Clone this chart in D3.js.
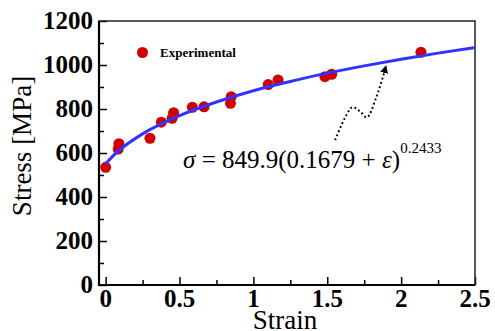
<!DOCTYPE html>
<meta charset="utf-8">
<style>
    body {
        margin: 0;
        background-color: white;
    }

    .tick-label {
        font-family: "Liberation Serif", "Times New Roman", serif;
        font-weight: bold;
        font-size: 25px;
    }

    .axis-title {
        font-family: "Liberation Serif", "Times New Roman", serif;
        font-size: 27px;
    }
</style>

<body>
    <script src="https://d3js.org/d3.v7.min.js"></script>
    <script>
        var width = 495,
            height = 331;

        // experimental points
        const strain = [0, 0.09, 0.085, 0.30, 0.377, 0.45, 0.46, 0.587, 0.666, 0.845, 0.85, 1.10, 1.167, 1.484, 1.53, 2.134];
        const stress = [535, 642, 618, 667, 740, 758, 783, 808, 810, 826, 856, 911, 932, 947, 958, 1058];

        // fitted curve, sampled
        const fitStrain = [0, 0.05, 0.1, 0.25, 0.5, 0.75, 1.0, 1.25, 1.5, 1.75, 2.0, 2.25, 2.5];
        const fitStress = [551, 587, 617, 687, 770, 832, 883, 925, 963, 996, 1026, 1054, 1079];

        const xTicks = [0, 0.5, 1, 1.5, 2, 2.5];
        const xMinor = [0.25, 0.75, 1.25, 1.75, 2.25];
        const yTicks = [0, 200, 400, 600, 800, 1000, 1200];
        const yMinor = [100, 300, 500, 700, 900, 1100];

        // dotted arrow path, in data units
        const arrowStrain = [1.553, 1.62, 1.67, 1.72, 1.768, 1.83, 1.892];
        const arrowStress = [659, 760, 808, 790, 762, 850, 982];

        var x = d3.scaleLinear()
            .domain([-0.045, 2.5])
            .range([99, 475]);

        var y = d3.scaleLinear()
            .domain([0, 1200])
            .range([285, 21]);

        var svg = d3.select("body").append("svg")
            .attr("width", width)
            .attr("height", height);

        // ticks (inward)
        var xAxis = d3.axisBottom(x).tickValues(xTicks).tickSize(-8).tickSizeOuter(0).tickFormat("");
        var xAxisMinor = d3.axisBottom(x).tickValues(xMinor).tickSize(-5).tickSizeOuter(0).tickFormat("");
        var yAxis = d3.axisLeft(y).tickValues(yTicks).tickSize(-8).tickSizeOuter(0).tickFormat("");
        var yAxisMinor = d3.axisLeft(y).tickValues(yMinor).tickSize(-5).tickSizeOuter(0).tickFormat("");

        [[xAxis, "translate(0,285)"], [xAxisMinor, "translate(0,285)"],
        [yAxis, "translate(99,0)"], [yAxisMinor, "translate(99,0)"]].forEach(function (a) {
            var g = svg.append("g").attr("transform", a[1]).call(a[0]);
            g.select(".domain").remove();
            g.selectAll("line").attr("stroke", "black").attr("stroke-width", 1.5);
        });

        // frame
        svg.append("rect")
            .attr("x", 99)
            .attr("y", 21)
            .attr("width", 376)
            .attr("height", 264)
            .attr("fill", "none")
            .attr("stroke", "#222")
            .attr("stroke-width", 1.5);
        svg.append("path")
            .attr("d", "M99,21V285H475")
            .attr("fill", "none")
            .attr("stroke", "black")
            .attr("stroke-width", 2.2);

        // tick labels
        svg.selectAll(".xlab")
            .data(xTicks)
            .enter().append("text")
            .attr("class", "tick-label")
            .attr("x", d => x(d))
            .attr("y", 307)
            .attr("text-anchor", "middle")
            .text(d => d);

        svg.selectAll(".ylab")
            .data(yTicks)
            .enter().append("text")
            .attr("class", "tick-label")
            .attr("x", 93)
            .attr("y", d => y(d) + 8)
            .attr("text-anchor", "end")
            .text(d => d);

        // axis titles
        svg.append("text")
            .attr("class", "axis-title")
            .attr("x", 285)
            .attr("y", 329)
            .attr("font-size", 26)
            .attr("text-anchor", "middle")
            .text("Strain");

        svg.append("text")
            .attr("class", "axis-title")
            .attr("transform", "translate(31,146) rotate(-90)")
            .attr("text-anchor", "middle")
            .text("Stress [MPa]");

        // fitted curve
        var line = d3.line()
            .x((d, i) => x(fitStrain[i]))
            .y(d => y(d))
            .curve(d3.curveMonotoneX);

        // points
        svg.selectAll(".pt")
            .data(stress)
            .enter().append("circle")
            .attr("cx", (d, i) => x(strain[i]))
            .attr("cy", d => y(d))
            .attr("r", 5.5)
            .attr("fill", "#d00000");

        svg.append("path")
            .datum(fitStress)
            .attr("d", line)
            .attr("fill", "none")
            .attr("stroke", "#3333ff")
            .attr("stroke-width", 3);

        // legend
        svg.append("circle")
            .attr("cx", 142.5)
            .attr("cy", 52.5)
            .attr("r", 5.5)
            .attr("fill", "#d00000");
        svg.append("text")
            .attr("x", 160)
            .attr("y", 57)
            .attr("font-family", "Liberation Serif, serif")
            .attr("font-weight", "bold")
            .attr("font-size", 13)
            .text("Experimental");

        // annotation arrow
        svg.append("defs").append("marker")
            .attr("id", "tip")
            .attr("viewBox", "0 0 10 10")
            .attr("refX", 5)
            .attr("refY", 5)
            .attr("markerWidth", 4)
            .attr("markerHeight", 4)
            .attr("orient", "auto")
            .append("path")
            .attr("d", "M0,0L10,5L0,10Z")
            .attr("fill", "black");

        var arrowLine = d3.line()
            .x((d, i) => x(arrowStrain[i]))
            .y(d => y(d))
            .curve(d3.curveCatmullRom);

        svg.append("path")
            .datum(arrowStress)
            .attr("d", arrowLine)
            .attr("fill", "none")
            .attr("stroke", "black")
            .attr("stroke-width", 2)
            .attr("stroke-dasharray", "1.8,2.6")
            .attr("marker-end", "url(#tip)");

        // formula
        var formula = svg.append("text")
            .attr("x", x(0.524))
            .attr("y", y(532))
            .attr("font-family", "Liberation Serif, serif")
            .attr("font-size", 25);
        formula.append("tspan").attr("font-style", "italic").text("σ");
        formula.append("tspan").text(" = 849.9(0.1679 + ");
        formula.append("tspan").attr("font-style", "italic").text("ε");
        formula.append("tspan").text(")");
        formula.append("tspan").attr("font-size", 15).attr("dy", -15).text("0.2433");
    </script>
</body>

</html>
